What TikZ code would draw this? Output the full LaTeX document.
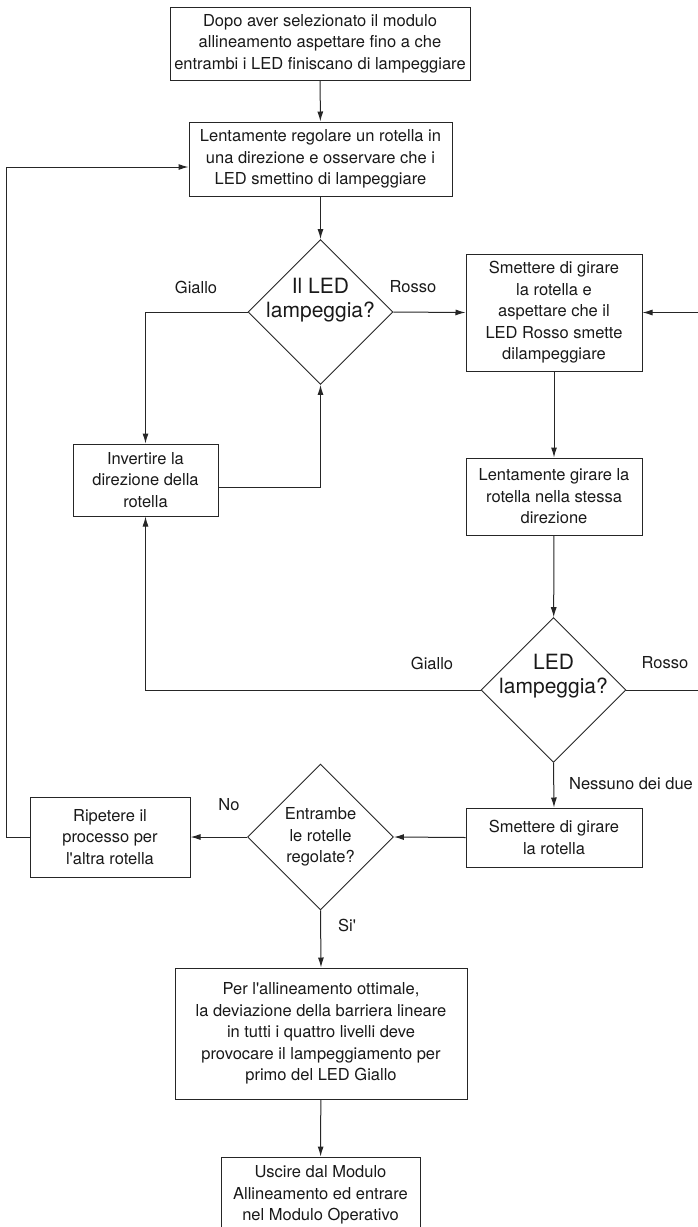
\documentclass[tikz,border=0pt]{standalone}
\usepackage{fontspec}
\setmainfont{TeX Gyre Heros}
\usetikzlibrary{shapes.geometric,arrows.meta}
\begin{document}
\begin{tikzpicture}[x=1pt,y=-1pt,
            every node/.style={text=black!90},
            box/.style={draw=black!85,line width=1pt,align=center,inner sep=0pt,font=\fontsize{16.5}{21.5}\selectfont},
            decision/.style={draw=black!85,line width=0.9pt,diamond,inner sep=0pt,minimum width=145pt,minimum height=145pt},
            asktext/.style={align=center,inner sep=0pt,font=\fontsize{21}{24.5}\selectfont},
            lbl/.style={inner sep=0pt,font=\fontsize{16.5}{20}\selectfont},
            arr/.style={draw=black!85,line width=1pt,-{Latex[length=10pt,width=6pt]}}]
            \useasboundingbox (0,0) rectangle (697,1227);
            \node[box,minimum width=300pt,minimum height=73pt] (start) at (320,43.5)
                {Dopo aver selezionato il modulo\\allineamento aspettare fino a che\\entrambi i LED finiscano di lampeggiare};
            \node[box,minimum width=263pt,minimum height=74pt] (adjust) at (320.5,159)
                {Lentamente regolare un rotella in\\una direzione e osservare che i\\LED smettino di lampeggiare};
            \node[decision] (ask1) at (320.5,312) {};
            \node[asktext] (ask1txt) at (320.5,300) {Il LED\\lampeggia?};
            \node[box,minimum width=176pt,minimum height=117pt] (waitred) at (554,312.5)
                {Smettere di girare\\la rotella e\\aspettare che il\\LED Rosso smette\\dilampeggiare};
            \node[box,minimum width=145pt,minimum height=72pt] (invert) at (145.5,480)
                {Invertire la\\direzione della\\rotella};
            \node[box,minimum width=176pt,minimum height=77pt] (turn) at (554,496.5)
                {Lentamente girare la\\rotella nella stessa\\direzione};
            \node[decision] (ask2) at (553.5,690) {};
            \node[asktext] (ask2txt) at (553.5,676) {LED\\lampeggia?};
            \node[box,minimum width=176pt,minimum height=59pt] (stop) at (554,837.5)
                {Smettere di girare\\la rotella};
            \node[decision,minimum width=146pt,minimum height=146pt] (ask3) at (320.5,837) {};
            \node[box,draw=none] (ask3txt) at (320.5,837) {Entrambe\\le rotelle\\regolate?};
            \node[box,minimum width=160pt,minimum height=80pt] (repeat) at (110,837)
                {Ripetere il\\processo per\\l\textquotesingle altra rotella};
            \node[box,minimum width=292pt,minimum height=131pt] (optimal) at (321,1033.5)
                {Per l\textquotesingle allineamento ottimale,\\la deviazione della barriera lineare\\in tutti i quattro livelli deve\\provocare il lampeggiamento per\\primo del LED Giallo};
            \node[box,minimum width=199pt,minimum height=76pt] (exit) at (320.5,1195)
                {Uscire dal Modulo\\Allineamento ed entrare\\nel Modulo Operativo};
            \node[lbl] (yellow1) at (196,287) {Giallo};
            \node[lbl] (red1) at (413,287) {Rosso};
            \node[lbl] (yellow2) at (432,663) {Giallo};
            \node[lbl] (red2) at (665,663) {Rosso};
            \node[lbl] (neither) at (631,784) {Nessuno dei due};
            \node[lbl] (no) at (229,805) {No};
            \node[lbl] (yes) at (347,925) {Si\textquotesingle};
            \draw[arr] (start) -- (adjust);
            \draw[arr] (adjust) -- (ask1);
            \draw[arr] (ask1.west) -| (invert.north);
            \draw[arr] (ask1.east) -- (waitred.west);
            \draw[arr] ([yshift=-7pt]invert.east) -| (ask1.south);
            \draw[arr] (waitred) -- (turn);
            \draw[arr] (turn) -- (ask2);
            \draw[arr] (ask2.west) -| (invert.south);
            \draw[arr] (ask2.east) -- ++(150,0) |- (waitred.east);
            \draw[arr] (ask2.south) -- (stop.north);
            \draw[arr] (stop.west) -- (ask3.east);
            \draw[arr] (ask3.west) -- (repeat.east);
            \draw[arr] (repeat.west) -- ++(-23,0) |- ([yshift=-8pt]adjust.west);
            \draw[arr] (ask3.south) -- (optimal.north);
            \draw[arr] (optimal) -- (exit);
\end{tikzpicture}
\end{document}
